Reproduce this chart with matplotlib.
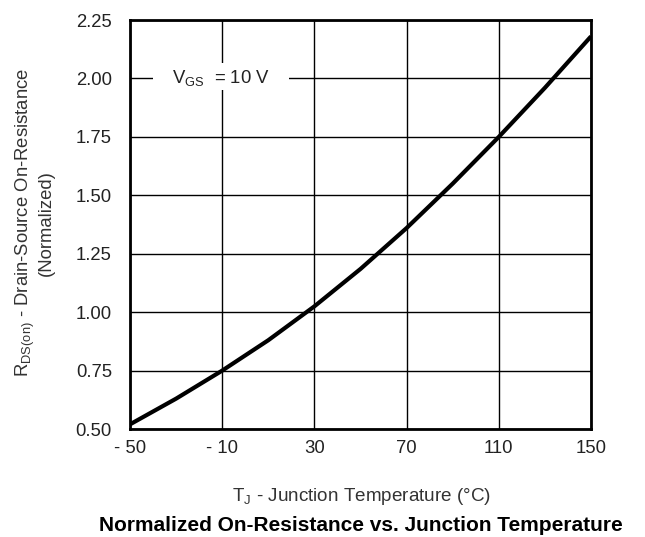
import matplotlib
matplotlib.use('Agg')
import matplotlib.pyplot as plt
from matplotlib.patches import Rectangle

plt.rcParams['font.family'] = ['Liberation Sans', 'DejaVu Sans']
plt.rcParams['mathtext.fontset'] = 'custom'
plt.rcParams['mathtext.rm'] = 'Liberation Sans'
plt.rcParams['mathtext.it'] = 'Liberation Sans'

# Junction temperature (deg C) and normalized RDS(on)
temps = [-50, -30, -10, 10, 30, 50, 70, 90, 110, 130, 150]
rds_norm = [0.52, 0.63, 0.75, 0.88, 1.025, 1.185, 1.36, 1.55, 1.75, 1.96, 2.18]

x_ticks = [-50, -10, 30, 70, 110, 150]
x_labels = ['- 50', '- 10', '30', '70', '110', '150']
y_ticks = [0.50, 0.75, 1.00, 1.25, 1.50, 1.75, 2.00, 2.25]

fig = plt.figure(figsize=(6.45, 5.37), dpi=100)
ax = fig.add_axes([0.2016, 0.2011, 0.7147, 0.7616])

ax.plot(temps, rds_norm, color='black', lw=3, solid_capstyle='butt', zorder=3)

ax.set_xlim(-50, 150)
ax.set_ylim(0.5, 2.25)
ax.set_xticks(x_ticks)
ax.set_xticklabels(x_labels)
ax.set_yticks(y_ticks)
ax.set_yticklabels([f'{v:.2f}' for v in y_ticks])
ax.tick_params(length=0, labelsize=13.3, colors='#222222')
ax.tick_params(axis='y', pad=13)
ax.tick_params(axis='x', pad=8)
ax.grid(True, color='black', lw=1)
for s in ax.spines.values():
    s.set_linewidth(2)

# white gap in the grid behind the condition label
ax.add_patch(Rectangle((-40, 1.95), 59, 0.116, facecolor='white', edgecolor='none', zorder=2.5))
ax.text(-10.7, 2.0, r'V$_{\mathrm{GS}}$  = 10 V', fontsize=13.3, ha='center', va='center',
        color='#222222', zorder=4)

fig.text(0.053, 0.585, r'R$_{\mathrm{DS(on)}}$ - Drain-Source On-Resistance' + '\n(Normalized)',
         rotation=90, ha='center', va='center', multialignment='center',
         fontsize=13.3, color='#333333', linespacing=1.1)
fig.text(0.56, 0.075, r'T$_{\mathrm{J}}$ - Junction Temperature (°C)',
         ha='center', va='center', fontsize=13.6, color='#333333')
fig.text(0.56, 0.022, 'Normalized On-Resistance vs. Junction Temperature',
         ha='center', va='center', fontsize=15, fontweight='bold')

fig.savefig('out.png', dpi=100)
